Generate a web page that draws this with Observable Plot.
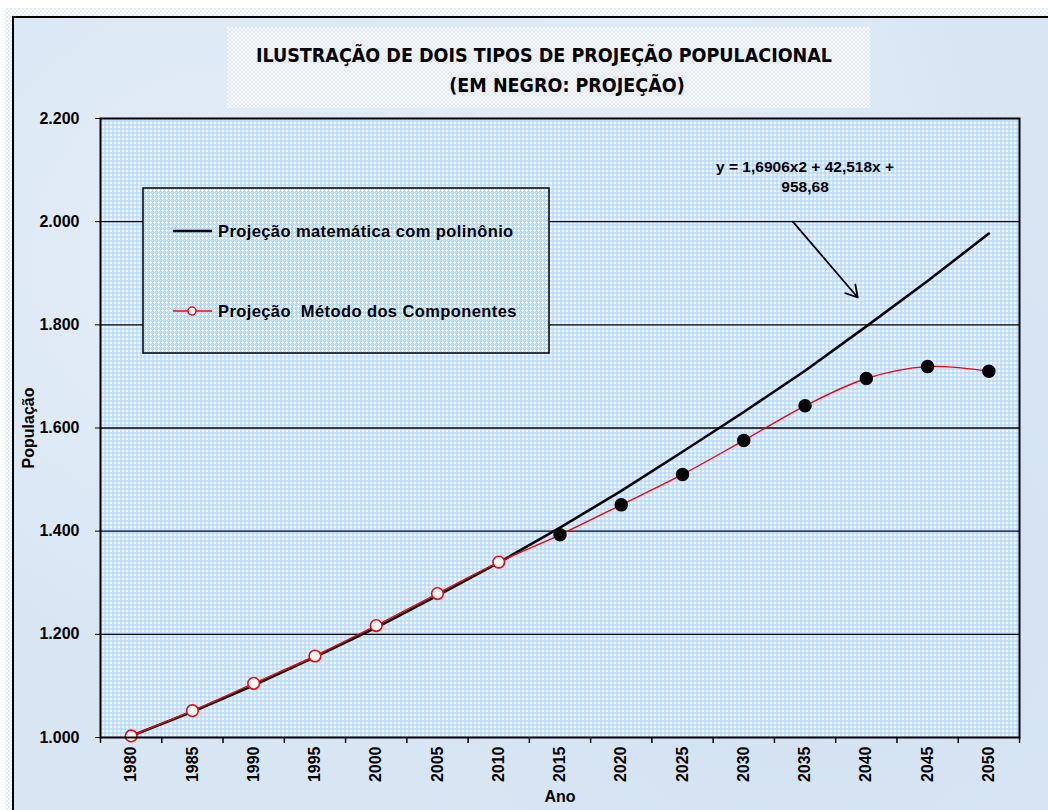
<!DOCTYPE html>
<html><head><meta charset="utf-8">
<script src="https://cdn.jsdelivr.net/npm/d3@7"></script>
<script src="https://cdn.jsdelivr.net/npm/@observablehq/plot@0.6"></script>
<style>
body{margin:0;background:#fff;}
#page{position:relative;width:1048px;height:810px;overflow:hidden;
  background-color:#fff;
  background-image:conic-gradient(#e4ecf7 25%,#fff 0 50%,#e4ecf7 0 75%,#fff 0);
  background-size:4px 4px;}
#whiteTop{position:absolute;left:0;top:0;width:1048px;height:8px;background:#fff;}
#whiteLeft{position:absolute;left:0;top:0;width:5px;height:810px;background:#fff;}
#chartbox{position:absolute;left:12px;top:16px;width:1060px;height:820px;box-sizing:border-box;
  border-left:2px solid #000;border-top:2px solid #000;
  background:
   radial-gradient(circle at 20% 30%, rgba(255,255,255,0.35), rgba(255,255,255,0) 40%),
   radial-gradient(circle at 75% 70%, rgba(200,215,235,0.35), rgba(255,255,255,0) 45%),
   radial-gradient(circle at 60% 15%, rgba(255,255,255,0.3), rgba(255,255,255,0) 35%),
   #d8e6f4;}
#titlebox{position:absolute;left:227px;top:27px;width:643px;height:81px;
  background-color:#f3f6fb;
  background-image:conic-gradient(#e2e9f5 25%,#f6f8fc 0 50%,#e2e9f5 0 75%,#f6f8fc 0);
  background-size:4px 4px;}
.tline{position:absolute;white-space:nowrap;font-family:"Liberation Sans Narrow","DejaVu Sans Condensed","Liberation Sans",sans-serif;
  font-weight:bold;font-size:19.5px;color:#000;transform:translateX(-50%);}
#plotwrap{position:absolute;left:0;top:100px;}
</style></head>
<body>
<div id="page">
  <div id="whiteTop"></div><div id="whiteLeft"></div>
  <div id="chartbox"></div>
  <div id="titlebox"></div>
  <div class="tline" style="left:544px;top:44px;">ILUSTRAÇÃO DE DOIS TIPOS DE PROJEÇÃO POPULACIONAL</div>
  <div class="tline" style="left:567px;top:74px;">(EM NEGRO: PROJEÇÃO)</div>
  <div id="plotwrap"></div>
</div>
<script>
// ---- data ----
const years = [1980,1985,1990,1995,2000,2005,2010,2015,2020,2025,2030,2035,2040,2045,2050];
const polinomio = [1003,1050,1101,1156,1213,1275,1339,1407,1478,1554,1631,1711,1797,1885,1977];
const componentes = [1003,1052,1105,1158,1217,1279,1340,1393,1451,1510,1576,1643,1696,1719,1710];
const ultimoObservado = 2010;
const yTicks = [1000,1200,1400,1600,1800,2000,2200];
const gridValues = [1200,1400,1600,1800,2000];
const categoryEdges = [1977.5,1982.5,1987.5,1992.5,1997.5,2002.5,2007.5,2012.5,2017.5,2022.5,2027.5,2032.5,2037.5,2042.5,2047.5,2052.5];
const equationLines = "y = 1,6906x2 + 42,518x +\n958,68";
const equationAnchor = [{x: 2035.0, y: 2089}];
const arrowData = [{x1: 2034.0, y1: 2000, x2: 2039.3, y2: 1853}];
const legendLabels = ["Projeção matemática com polinônio", "Projeção  Método dos Componentes"];

const rows = years.map((y,i)=>({ano:y, poli:polinomio[i], comp:componentes[i], obs: y <= ultimoObservado}));
const fmt = d => d3.format(",")(d).replace(/,/g,".");

const plot = Plot.plot({
  width: 1048, height: 710,
  marginLeft: 100, marginRight: 29, marginTop: 18, marginBottom: 73,
  style: {fontFamily: "'Liberation Sans', Arial, sans-serif", fontSize: "16px", background: "transparent", color: "#000"},
  x: {type: "linear", domain: [categoryEdges[0], categoryEdges[categoryEdges.length-1]]},
  y: {domain: [yTicks[0], yTicks[yTicks.length-1]]},
  marks: [
    Plot.frame({fill: "url(#pat)"}),
    Plot.ruleY(gridValues, {stroke: "#000", strokeWidth: 1.3}),
    Plot.axisY({ticks: yTicks, tickFormat: fmt, tickSize: 5, tickPadding: 16, fontWeight: "bold", fontSize: 16,
      label: "População", labelAnchor: "center", labelOffset: 78, labelArrow: "none"}),
    Plot.axisX({ticks: categoryEdges, tickSize: 6, tickFormat: () => "", label: null, strokeWidth: 1.5}),
    Plot.axisX({ticks: years, tickSize: 0, tickPadding: 9, tickRotate: -90, tickFormat: d => String(d),
      fontWeight: "bold", fontSize: 16, label: "Ano", labelAnchor: "center", labelOffset: 64, labelArrow: "none"}),
    Plot.line(rows, {x: "ano", y: "poli", stroke: "#000", strokeWidth: 2.6}),
    Plot.line(rows, {x: "ano", y: "comp", stroke: "#ff0000", strokeWidth: 1.4, curve: "catmull-rom"}),
    Plot.dot(rows.filter(d => d.obs), {x: "ano", y: "comp", r: 5.8, fill: "#fff", stroke: "#ff0000", strokeWidth: 1.6}),
    Plot.dot(rows.filter(d => !d.obs), {x: "ano", y: "comp", r: 6, fill: "#000", stroke: "#000"}),
    Plot.arrow(arrowData, {x1: "x1", y1: "y1", x2: "x2", y2: "y2", stroke: "#000", strokeWidth: 1.8, headLength: 11, bend: 0}),
    Plot.text(equationAnchor, {x: "x", y: "y", text: () => equationLines, fontWeight: "bold", fontSize: 15.5, lineHeight: 1.3}),
    Plot.frame({stroke: "#000", strokeWidth: 2})
  ]
});

// pattern definition for plot background
const svg = d3.select(plot);
const defs = svg.insert("defs", ":first-child");
const pat = defs.append("pattern").attr("id","pat").attr("width",4).attr("height",4).attr("patternUnits","userSpaceOnUse");
pat.append("rect").attr("width",4).attr("height",4).attr("fill","#b8dafd");
pat.append("rect").attr("x",2).attr("y",1).attr("width",1).attr("height",3).attr("fill","#fff");
pat.append("rect").attr("x",1).attr("y",2).attr("width",3).attr("height",1).attr("fill","#fff");

// legend (layout in pixels relative to svg)
const lg = svg.append("g").attr("font-family","'Liberation Sans', Arial, sans-serif").attr("font-weight","bold")
  .attr("font-size","16.5px").attr("text-anchor","start");
lg.append("rect").attr("x",143).attr("y",88).attr("width",406).attr("height",165)
  .attr("fill","url(#pat)").attr("stroke","#000").attr("stroke-width",1.5);
lg.append("line").attr("x1",173).attr("x2",212).attr("y1",131).attr("y2",131).attr("stroke","#000").attr("stroke-width",2.6);
lg.append("text").attr("x",218).attr("y",137).text(legendLabels[0]).attr("letter-spacing","0.4px");
lg.append("line").attr("x1",173).attr("x2",212).attr("y1",211).attr("y2",211).attr("stroke","#ff0000").attr("stroke-width",1.5);
lg.append("circle").attr("cx",192).attr("cy",211).attr("r",4).attr("fill","#fff").attr("stroke","#ff0000").attr("stroke-width",1.5);
lg.append("text").attr("x",218).attr("y",217).text(legendLabels[1]).attr("letter-spacing","0.4px").style("white-space","pre");

document.getElementById("plotwrap").appendChild(plot);
</script>
</body></html>
